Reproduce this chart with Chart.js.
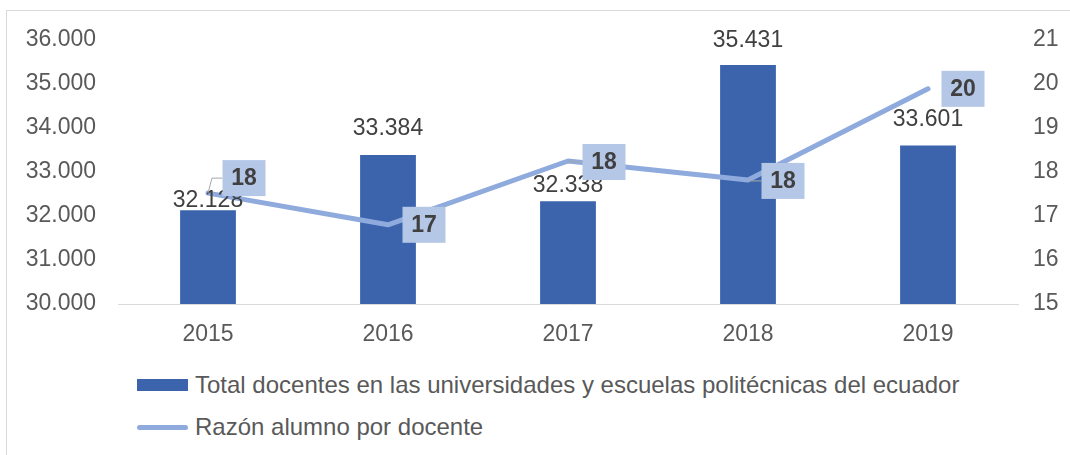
<!DOCTYPE html>
<html lang="es">
<head>
<meta charset="utf-8">
<title>Docentes y razón alumno por docente</title>
<script src="https://cdn.jsdelivr.net/npm/chart.js@4.4.0/dist/chart.umd.min.js"></script>
<style>
    body { margin: 0; background: #ffffff; font-family: 'Liberation Sans', Arial, sans-serif; }
    .wrap { position: relative; width: 1070px; height: 455px; overflow: hidden; }
    .frame { position: absolute; left: 6px; top: 10px; width: 1100px; height: 500px; border: 1px solid #d9d9d9; pointer-events: none; }
    #chart { position: absolute; left: 0; top: 0; }
    .legend { position: absolute; left: 137px; top: 364px; color: #595959; font-size: 24px; }
    .legend-item { display: flex; align-items: center; height: 42px; }
    .legend-item .key { width: 51px; margin-right: 7px; }
    .key.bar { height: 12px; background: #3b64ad; }
    .key.line { height: 5px; background: #8faadc; border-radius: 3px; }
</style>
</head>
<body>
<div class="wrap">
    <canvas id="chart" width="1070" height="360"></canvas>
    <div class="legend" id="legend"></div>
    <div class="frame"></div>
</div>
<script>
    const years = ['2015', '2016', '2017', '2018', '2019'];
    const totalDocentes = [32128, 33384, 32338, 35431, 33601];
    const razonAlumnoDocente = [17.52, 16.8, 18.25, 17.82, 19.89];

    const barLabel = 'Total docentes en las universidades y escuelas politécnicas del ecuador';
    const lineLabel = 'Razón alumno por docente';

    // label placement tweaks (as positioned in the original)
    const barLabelLift = [10, 26, 15, 24, 26];
    const lineLabelShift = [[36, -15], [36, 0], [36, 1], [35, 1], [35, 0]];

    const BAR_COLOR = '#3b64ad';
    const LINE_COLOR = '#8faadc';
    const BOX_COLOR = '#b4c7e7';
    const TEXT_COLOR = '#595959';
    const LABEL_COLOR = '#404040';

    function formatMiles(value) {
        return String(Math.round(value)).replace(/\B(?=(\d{3})+(?!\d))/g, '.');
    }

    Chart.defaults.font.family = "'Liberation Sans', Arial, sans-serif";
    Chart.defaults.font.size = 23;
    Chart.defaults.color = TEXT_COLOR;

    // draws the value labels (Excel-style data labels)
    const valueLabels = {
        id: 'valueLabels',
        afterDatasetsDraw(chart) {
            const ctx = chart.ctx;
            ctx.save();

            const barMeta = chart.getDatasetMeta(1);
            ctx.font = "23px 'Liberation Sans', Arial, sans-serif";
            ctx.fillStyle = LABEL_COLOR;
            ctx.textAlign = 'center';
            ctx.textBaseline = 'middle';
            barMeta.data.forEach((bar, i) => {
                ctx.fillText(formatMiles(totalDocentes[i]), bar.x, bar.y - barLabelLift[i]);
            });

            const lineMeta = chart.getDatasetMeta(0);
            ctx.font = "bold 23px 'Liberation Sans', Arial, sans-serif";
            lineMeta.data.forEach((pt, i) => {
                const text = String(Math.round(razonAlumnoDocente[i]));
                const cx = pt.x + lineLabelShift[i][0];
                const cy = pt.y + lineLabelShift[i][1];
                const w = 43, h = 36;
                if (lineLabelShift[i][1] !== 0) {
                    ctx.strokeStyle = '#a6a6a6';
                    ctx.lineWidth = 1;
                    ctx.beginPath();
                    ctx.moveTo(pt.x, pt.y);
                    ctx.lineTo(pt.x + 4, cy);
                    ctx.lineTo(cx - w / 2, cy);
                    ctx.stroke();
                }
                ctx.fillStyle = BOX_COLOR;
                ctx.fillRect(cx - w / 2, cy - h / 2, w, h);
                ctx.fillStyle = LABEL_COLOR;
                ctx.fillText(text, cx, cy + 1);
            });

            ctx.restore();
        }
    };

    const chart = new Chart(document.getElementById('chart'), {
        data: {
            labels: years,
            datasets: [
                {
                    type: 'line',
                    label: lineLabel,
                    data: razonAlumnoDocente,
                    yAxisID: 'y1',
                    borderColor: LINE_COLOR,
                    borderWidth: 5,
                    pointRadius: 0,
                    tension: 0,
                    borderCapStyle: 'round',
                    borderJoinStyle: 'round',
                    order: 0
                },
                {
                    type: 'bar',
                    label: barLabel,
                    data: totalDocentes,
                    yAxisID: 'y',
                    backgroundColor: BAR_COLOR,
                    categoryPercentage: 1,
                    barPercentage: 0.31,
                    order: 1
                }
            ]
        },
        options: {
            responsive: false,
            animation: false,
            layout: { padding: { top: 40, left: 0, right: 0, bottom: 0 } },
            plugins: {
                legend: { display: false },
                tooltip: { enabled: false }
            },
            scales: {
                x: {
                    offset: true,
                    grid: { display: false, drawTicks: false },
                    border: { display: true, color: '#d9d9d9', width: 1 },
                    ticks: { padding: 17, color: TEXT_COLOR },
                    afterFit(scale) { scale.height = 56; }
                },
                y: {
                    position: 'left',
                    min: 30000,
                    max: 36000,
                    grid: { display: false, drawTicks: false },
                    border: { display: false },
                    ticks: {
                        stepSize: 1000,
                        padding: 22,
                        color: TEXT_COLOR,
                        callback: (v) => formatMiles(v)
                    },
                    afterFit(scale) { scale.width = 118; }
                },
                y1: {
                    position: 'right',
                    min: 15,
                    max: 21,
                    grid: { display: false, drawTicks: false },
                    border: { display: false },
                    ticks: { stepSize: 1, padding: 15, color: TEXT_COLOR },
                    afterFit(scale) { scale.width = 52; }
                }
            }
        },
        plugins: [valueLabels]
    });

    // legend, stacked and left aligned like the original
    const legendEl = document.getElementById('legend');
    chart.data.datasets.slice().reverse().forEach(ds => {
        const item = document.createElement('div');
        item.className = 'legend-item';
        item.innerHTML = `<span class="key ${ds.type}"></span><span>${ds.label}</span>`;
        legendEl.appendChild(item);
    });
</script>
</body>
</html>
